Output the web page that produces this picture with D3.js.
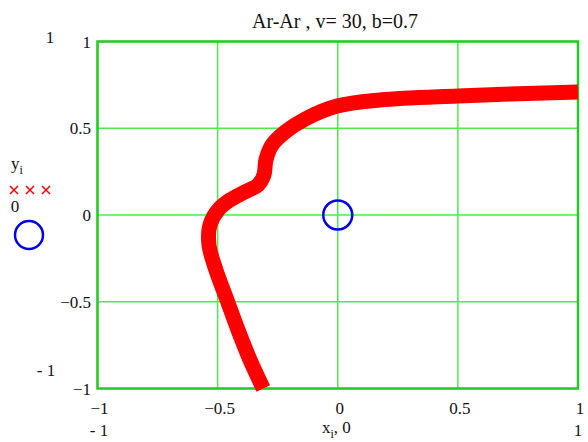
<!DOCTYPE html>
<html>
<head>
<meta charset="utf-8">
<style>
  html, body { margin:0; padding:0; background:#fff; }
  svg text { font-family: "Liberation Serif", "DejaVu Serif", serif; fill:#111; }
</style>
</head>
<body>
<svg id="chart" width="588" height="442"></svg>
<script src="https://cdn.jsdelivr.net/npm/d3@7"></script>
<script>
// trajectory (x_i,0 ; y_i)
const trajX = [-0.31, -0.365, -0.415, -0.461, -0.507, -0.536, -0.532, -0.498, -0.449, -0.386,
               -0.332, -0.307, -0.299, -0.274, -0.220, -0.136, -0.003, 0.176, 0.500, 1.0];
const trajY = [-1.0, -0.836, -0.663, -0.490, -0.317, -0.173, -0.058, 0.029, 0.086, 0.133,
               0.173, 0.231, 0.317, 0.403, 0.478, 0.553, 0.628, 0.663, 0.686, 0.709];
// target atom
const targetX = [0];
const targetY = [0];
const ticks = [-1, -0.5, 0, 0.5, 1];
const title = "Ar-Ar , v= 30, b=0.7";

const svg = d3.select("#chart");
const x = d3.scaleLinear().domain([-1, 1]).range([97.5, 578]);
const y = d3.scaleLinear().domain([-1, 1]).range([388.5, 41.5]);
const fmt = v => (v < 0 ? "\u2212" : "") + Math.abs(v);

// grid
const g = svg.append("g");
ticks.forEach(t => {
  g.append("line").attr("x1", x(t)).attr("x2", x(t)).attr("y1", y(-1)).attr("y2", y(1))
    .attr("stroke", "#4fe84f").attr("stroke-width", 1.5);
  g.append("line").attr("y1", y(t)).attr("y2", y(t)).attr("x1", x(-1)).attr("x2", x(1))
    .attr("stroke", "#4fe84f").attr("stroke-width", 1.5);
});
g.append("rect").attr("x", x(-1)).attr("y", y(1))
  .attr("width", x(1) - x(-1)).attr("height", y(-1) - y(1))
  .attr("fill", "none").attr("stroke", "#22cc22").attr("stroke-width", 2.5);

// trajectory
const pts = trajX.map((v, i) => [v, trajY[i]]);
svg.append("path")
  .attr("d", d3.line().x(d => x(d[0])).y(d => y(d[1])).curve(d3.curveCatmullRom)(pts))
  .attr("fill", "none").attr("stroke", "#ff0000").attr("stroke-width", 15)
  .attr("stroke-linecap", "butt").attr("stroke-linejoin", "round");

// target
svg.selectAll("circle.t").data(targetX).join("circle").attr("class", "t")
  .attr("cx", d => x(d)).attr("cy", (d, i) => y(targetY[i])).attr("r", 14.5)
  .attr("fill", "none").attr("stroke", "#0000ee").attr("stroke-width", 2.5);

// tick labels
ticks.forEach(t => {
  svg.append("text").attr("x", 91).attr("y", y(t) + 6).attr("text-anchor", "end")
    .attr("font-size", 17).text(fmt(t));
  svg.append("text").attr("x", x(t) + 2).attr("y", 414).attr("text-anchor", "middle")
    .attr("font-size", 17).text(fmt(t));
});

// axis limits
svg.append("text").attr("x", 50).attr("y", 43).attr("text-anchor", "middle").attr("font-size", 17).text("1");
svg.append("text").attr("x", 46).attr("y", 376).attr("text-anchor", "middle").attr("font-size", 17).text("- 1");
svg.append("text").attr("x", 99).attr("y", 436).attr("text-anchor", "middle").attr("font-size", 17).text("- 1");
svg.append("text").attr("x", 578).attr("y", 436).attr("text-anchor", "middle").attr("font-size", 17).text("1");

// title
svg.append("text").attr("x", 335).attr("y", 28).attr("text-anchor", "middle")
  .attr("font-size", 20).text(title);

// x axis label
const xl = svg.append("text").attr("x", 322).attr("y", 433).attr("font-size", 17);
xl.append("tspan").text("x");
xl.append("tspan").attr("dy", 5).attr("font-size", 12).text("i");
xl.append("tspan").attr("dy", -5).text(", 0");

// y legend
const yl = svg.append("text").attr("x", 11).attr("y", 169).attr("font-size", 17);
yl.append("tspan").text("y");
yl.append("tspan").attr("dy", 5).attr("font-size", 12).text("i");
[14, 30, 46].forEach(cx => {
  svg.append("path").attr("d", `M${cx - 4},${186} L${cx + 4},${194} M${cx + 4},${186} L${cx - 4},${194}`)
    .attr("stroke", "#ff0000").attr("stroke-width", 1.5);
});
svg.append("text").attr("x", 15).attr("y", 212).attr("text-anchor", "middle").attr("font-size", 17).text("0");
svg.append("circle").attr("cx", 29).attr("cy", 235).attr("r", 14)
  .attr("fill", "none").attr("stroke", "#0000ee").attr("stroke-width", 2.5);
</script>
</body>
</html>
